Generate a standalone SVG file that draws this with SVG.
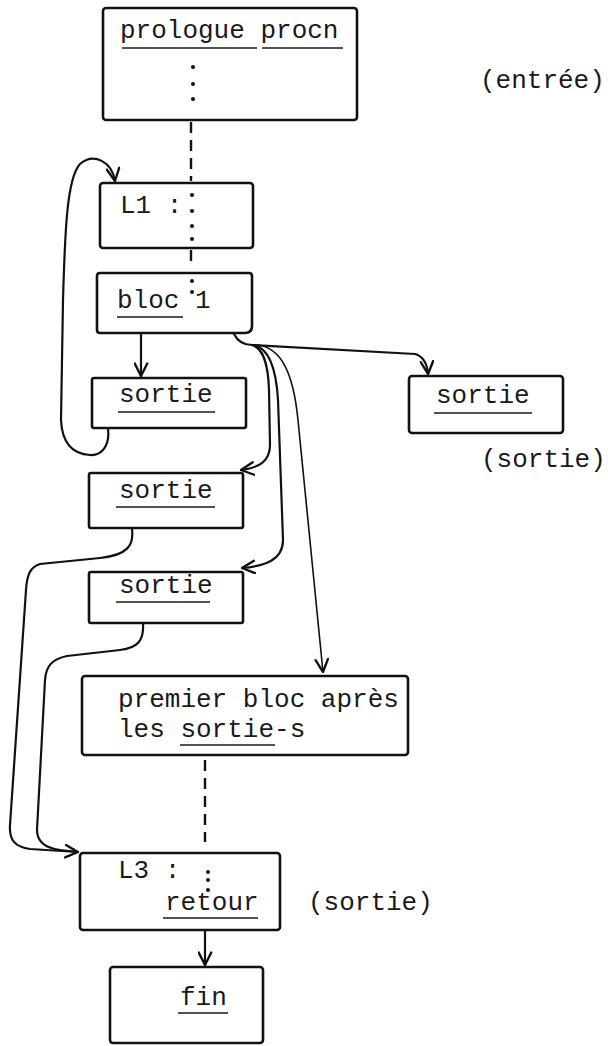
<svg xmlns="http://www.w3.org/2000/svg" width="608" height="1046" viewBox="0 0 608 1046">
<style>
.box{fill:none;stroke:#111;stroke-width:2.6;stroke-linejoin:round}
.t{font-family:"Liberation Mono","DejaVu Sans Mono",monospace;font-size:26px;fill:#1a1a1a}
.ul{stroke:#1a1a1a;stroke-width:1.6}
.c{fill:none;stroke:#111;stroke-width:2.2;stroke-linecap:round}
.thin{stroke-width:1.6}
.d{fill:none;stroke:#111;stroke-width:2.4;stroke-dasharray:11 7}
.dot{fill:#111}
</style>
<defs>
<marker id="ah" viewBox="0 0 12 12" refX="11" refY="6" markerWidth="15" markerHeight="15" markerUnits="userSpaceOnUse" orient="auto">
<path d="M1,1 L11,6 L1,11" fill="none" stroke="#111" stroke-width="1.9" stroke-linecap="round" stroke-linejoin="round"/>
</marker>
</defs>
<rect width="608" height="1046" fill="#fff"/>

<g id="connectors">
<path class="d" d="M191,122 V181"/>
<path class="d" d="M191,250 V264"/>
<path class="c" d="M141,334 V376" marker-end="url(#ah)"/>
<path class="c" d="M108,429 C110,445 102,456 90,455 C72,454 62,442 61,420 L63,300 C65,230 67,178 80,164 C94,152 112,162 115,181" marker-end="url(#ah)"/>
<path class="c" d="M234,334 C238,342 244,345 252,345 L415,354 C422,356 427,362 428,374" marker-end="url(#ah)"/>
<path class="c" d="M252,345 C262,348 268,360 269,390 L270,445 C270,462 258,468 241,470" marker-end="url(#ah)"/>
<path class="c" d="M254,345 C268,348 276,365 278,400 L283,540 C283,560 265,566 242,568" marker-end="url(#ah)"/>
<path class="c thin" d="M258,345 C280,348 293,370 298,420 L323,672" marker-end="url(#ah)"/>
<path class="c" d="M132,529 C134,545 128,555 100,558 L40,564 C30,567 27,575 26,590 L10,825 C9,840 15,847 30,849 L78,852" marker-end="url(#ah)"/>
<path class="c" d="M143,624 C144,640 138,648 120,650 L67,656 C52,659 46,666 45,680 L37,830 C37,842 45,848 60,850 L78,852"/>
<path class="d" d="M205,760 V842"/>
<path class="c" d="M205,931 V965" marker-end="url(#ah)"/>
</g>

<g id="prologue">
<rect class="box" x="103" y="8" width="254" height="112" rx="3"/>
<text class="t" x="120" y="38">prologue procn</text>
<line class="ul" x1="122" y1="48" x2="257" y2="48"/>
<line class="ul" x1="262" y1="48" x2="343" y2="48"/>
<circle class="dot" cx="193" cy="67" r="2"/>
<circle class="dot" cx="193" cy="84" r="2"/>
<circle class="dot" cx="193" cy="99" r="2"/>
</g>

<g id="entree-label"><text class="t" x="480" y="88">(entrée)</text></g>

<g id="L1">
<rect class="box" x="100" y="183" width="153" height="65" rx="3"/>
<text class="t" x="120" y="213">L1 :</text>
<circle class="dot" cx="192" cy="195" r="2"/>
<circle class="dot" cx="192" cy="211" r="2"/>
<circle class="dot" cx="192" cy="226" r="2"/>
<circle class="dot" cx="192" cy="239" r="2"/>
</g>

<g id="bloc1">
<path class="box" d="M100,273 H249 Q252,273 252,276 V326 Q252,333 245,333 H100 Q97,333 97,330 V276 Q97,273 100,273 Z"/>
<text class="t" x="117" y="308">bloc 1</text>
<line class="ul" x1="117" y1="317" x2="183" y2="317"/>
<circle class="dot" cx="192" cy="281" r="2"/>
<circle class="dot" cx="192" cy="292" r="2"/>
</g>

<g id="sortie1">
<rect class="box" x="92" y="378" width="154" height="50" rx="2"/>
<text class="t" x="119" y="402">sortie</text>
<line class="ul" x1="118" y1="412" x2="215" y2="412"/>
</g>

<g id="sortie-right">
<rect class="box" x="409" y="376" width="154" height="57" rx="3"/>
<text class="t" x="436" y="403">sortie</text>
<line class="ul" x1="434" y1="413" x2="532" y2="413"/>
</g>
<g id="sortie-right-label"><text class="t" x="481" y="467">(sortie)</text></g>

<g id="sortie2">
<rect class="box" x="89" y="473" width="154" height="55" rx="2"/>
<text class="t" x="119" y="498">sortie</text>
<line class="ul" x1="116" y1="507" x2="215" y2="507"/>
</g>

<g id="sortie3">
<rect class="box" x="89" y="572" width="154" height="51" rx="2"/>
<text class="t" x="119" y="593">sortie</text>
<line class="ul" x1="116" y1="602" x2="210" y2="602"/>
</g>

<g id="premier">
<rect class="box" x="82" y="676" width="326" height="79" rx="3"/>
<text class="t" x="118" y="707">premier bloc après</text>
<text class="t" x="118" y="737">les sortie-s</text>
<line class="ul" x1="180" y1="745" x2="275" y2="745"/>
</g>

<g id="L3">
<rect class="box" x="80" y="853" width="200" height="77" rx="3"/>
<text class="t" x="118" y="878">L3 :</text>
<circle class="dot" cx="208" cy="872" r="2"/>
<circle class="dot" cx="208" cy="880" r="2"/>
<circle class="dot" cx="208" cy="890" r="2"/>
<text class="t" x="165" y="910">retour</text>
<line class="ul" x1="163" y1="918" x2="258" y2="918"/>
</g>
<g id="L3-label"><text class="t" x="308" y="910">(sortie)</text></g>

<g id="fin">
<rect class="box" x="110" y="967" width="153" height="76" rx="3"/>
<text class="t" x="180" y="1005">fin</text>
<line class="ul" x1="178" y1="1013" x2="228" y2="1013"/>
</g>
</svg>
